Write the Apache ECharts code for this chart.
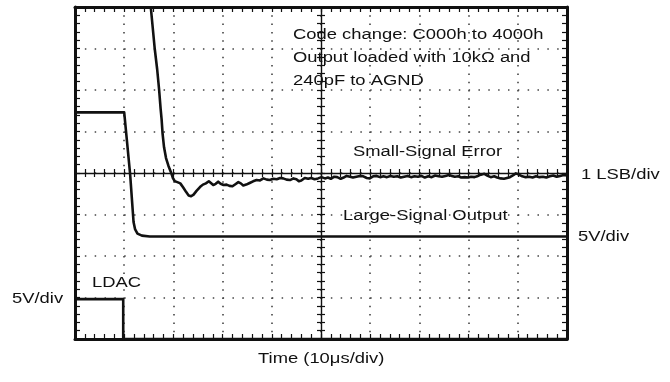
<!DOCTYPE html>
<html>
<head>
<meta charset="utf-8">
<script src="https://cdn.jsdelivr.net/npm/echarts@6.0.0/dist/echarts.min.js"></script>
<style>
  html, body { margin: 0; padding: 0; background: #fff; }
  #chart { width: 670px; height: 382px; }
</style>
</head>
<body>
<div id="chart"></div>
<script>
// scope screen in divisions: x 0..10 (10us/div), y 0..8
const ldac = [[0, 0.96], [0.98, 0.96], [0.98, 0], [10, 0]]
const largeSignal = [
  [0, 5.46], [1.0, 5.46], [1.03, 5.42], [1.12, 3.98], [1.19, 2.82], [1.22, 2.65],
  [1.27, 2.54], [1.36, 2.49], [1.52, 2.47], [10, 2.47],
]
const smallSignal = [
  [1.54, 8.0], [1.58, 7.5], [1.62, 7.0], [1.67, 6.5], [1.71, 6.0], [1.74, 5.55],
  [1.76, 5.3], [1.78, 4.95], [1.81, 4.62], [1.85, 4.36], [1.90, 4.17], [1.95, 4.02],
  [1.99, 3.88], [2.03, 3.80], [2.08, 3.78], [2.14, 3.75], [2.20, 3.65], [2.26, 3.54],
  [2.31, 3.46], [2.36, 3.44], [2.41, 3.48], [2.47, 3.57], [2.54, 3.66], [2.60, 3.72],
  [2.66, 3.75], [2.72, 3.80], [2.76, 3.79], [2.81, 3.71], [2.86, 3.74], [2.91, 3.79],
  [2.96, 3.74], [3.02, 3.71], [3.08, 3.72], [3.14, 3.69], [3.20, 3.68], [3.26, 3.73],
  [3.32, 3.78], [3.37, 3.75], [3.42, 3.70], [3.48, 3.72], [3.55, 3.76], [3.62, 3.80],
  [3.69, 3.83], [3.76, 3.82], [3.83, 3.87], [3.90, 3.84], [3.96, 3.83], [4.03, 3.86],
  [4.10, 3.85], [4.17, 3.88], [4.23, 3.87], [4.30, 3.84], [4.37, 3.83], [4.44, 3.87],
  [4.50, 3.85], [4.55, 3.80], [4.60, 3.82], [4.67, 3.88], [4.74, 3.86], [4.80, 3.88],
  [4.87, 3.85], [4.94, 3.87], [5.01, 3.90], [5.08, 3.87], [5.14, 3.89], [5.20, 3.86],
  [5.27, 3.91], [5.33, 3.90], [5.40, 3.86], [5.46, 3.89], [5.52, 3.93], [5.59, 3.91],
  [5.65, 3.89], [5.72, 3.91], [5.79, 3.93], [5.86, 3.92], [5.93, 3.88], [5.99, 3.87],
  [6.06, 3.92], [6.13, 3.93], [6.20, 3.90], [6.27, 3.92], [6.34, 3.90], [6.41, 3.93],
  [6.48, 3.91], [6.55, 3.92], [6.62, 3.89], [6.69, 3.91], [6.76, 3.93], [6.83, 3.90],
  [6.90, 3.92], [6.97, 3.91], [7.04, 3.93], [7.11, 3.89], [7.18, 3.92], [7.25, 3.90],
  [7.32, 3.94], [7.39, 3.92], [7.46, 3.91], [7.53, 3.93], [7.60, 3.95], [7.66, 3.93],
  [7.72, 3.91], [7.79, 3.92], [7.85, 3.89], [7.92, 3.90], [7.99, 3.89], [8.05, 3.91],
  [8.12, 3.90], [8.19, 3.93], [8.25, 3.96], [8.32, 3.98], [8.39, 3.93], [8.45, 3.90],
  [8.52, 3.92], [8.58, 3.89], [8.65, 3.87], [8.72, 3.86], [8.78, 3.88], [8.84, 3.90],
  [8.90, 3.94], [8.96, 3.99], [9.02, 3.96], [9.09, 3.92], [9.16, 3.90], [9.23, 3.91],
  [9.30, 3.89], [9.37, 3.92], [9.44, 3.90], [9.51, 3.91], [9.58, 3.89], [9.65, 3.92],
  [9.72, 3.94], [9.79, 3.91], [9.86, 3.93], [9.93, 3.95], [10.0, 3.94],
]
const notes = ['Code change: C000h to 4000h', 'Output loaded with 10kΩ and', '240pF to AGND']

const ink = '#111'
const textColor = '#111'
const font = '15.5px "Liberation Sans", Arial, sans-serif'
const stretch = 1.186 // the scope photo is wider than tall

const edgeTick = { show: true, inside: true, length: 5, lineStyle: { color: ink, width: 1.2 } }
const edgeMinor = { show: true, splitNumber: 5, length: 5, lineStyle: { color: ink, width: 1.2 } }

function xAxis(position, extra) {
  return Object.assign({
    type: 'value', min: 0, max: 10, interval: 1, position,
    axisLabel: { show: false },
    axisLine: { show: true, onZero: false, lineStyle: { color: ink, width: 3 } },
    axisTick: edgeTick, minorTick: edgeMinor,
    splitLine: { show: false },
  }, extra)
}
function yAxis(position, extra) {
  return Object.assign({
    type: 'value', min: 0, max: 8, interval: 1, position,
    axisLabel: { show: false },
    axisLine: { show: true, onZero: false, lineStyle: { color: ink, width: 3 } },
    axisTick: edgeTick, minorTick: edgeMinor,
    splitLine: { show: false },
  }, extra)
}

// centre cross: ticks on both sides, so two axes each
const crossLine = { show: true, onZero: false, lineStyle: { color: ink, width: 1.4 } }
const crossTick = (inside) => ({ show: true, inside, length: 4, lineStyle: { color: ink, width: 1.2 } })
const crossMinor = { show: true, splitNumber: 5, length: 4, lineStyle: { color: ink, width: 1.2 } }

function text(str, x, y) {
  return {
    type: 'text', x, y, scaleX: stretch, silent: true,
    style: { text: str, fill: textColor, font, align: 'left', verticalAlign: 'middle' },
  }
}

const trace = (name, data) => ({
  name, type: 'line', data, showSymbol: false, animation: false,
  xAxisIndex: 0, yAxisIndex: 0,
  lineStyle: { color: ink, width: 2.6, join: 'round' },
})

const chart = echarts.init(document.getElementById('chart'))
chart.setOption({
  animation: false,
  backgroundColor: '#fff',
  grid: { left: 75, top: 7, width: 492, height: 332, show: false },
  xAxis: [
    xAxis('bottom', { splitLine: { show: true, lineStyle: { color: '#444', width: 1.6, type: [1.5, 6.8] } } }),
    xAxis('top'),
    xAxis('bottom', { offset: -166, axisLine: crossLine, axisTick: crossTick(false), minorTick: crossMinor }),
    xAxis('bottom', { offset: -166, axisLine: { show: false }, axisTick: crossTick(true), minorTick: crossMinor }),
  ],
  yAxis: [
    yAxis('left', { splitLine: { show: true, lineStyle: { color: '#444', width: 1.6, type: [1.5, 8.34] } } }),
    yAxis('right'),
    yAxis('left', { offset: -246, axisLine: crossLine, axisTick: crossTick(false), minorTick: crossMinor }),
    yAxis('left', { offset: -246, axisLine: { show: false }, axisTick: crossTick(true), minorTick: crossMinor }),
  ],
  series: [
    trace('LDAC', ldac),
    trace('Large-Signal Output', largeSignal),
    trace('Small-Signal Error', smallSignal),
  ],
  graphic: [
    text(notes[0], 293, 35),
    text(notes[1], 293, 58),
    text(notes[2], 293, 81),
    text('Small-Signal Error', 353, 152),
    text('Large-Signal Output', 343, 216),
    text('1 LSB/div', 581, 175),
    text('5V/div', 578, 237),
    text('LDAC', 92, 283),
    text('5V/div', 12, 299),
    text('Time (10μs/div)', 258, 359),
  ],
})
</script>
</body>
</html>
